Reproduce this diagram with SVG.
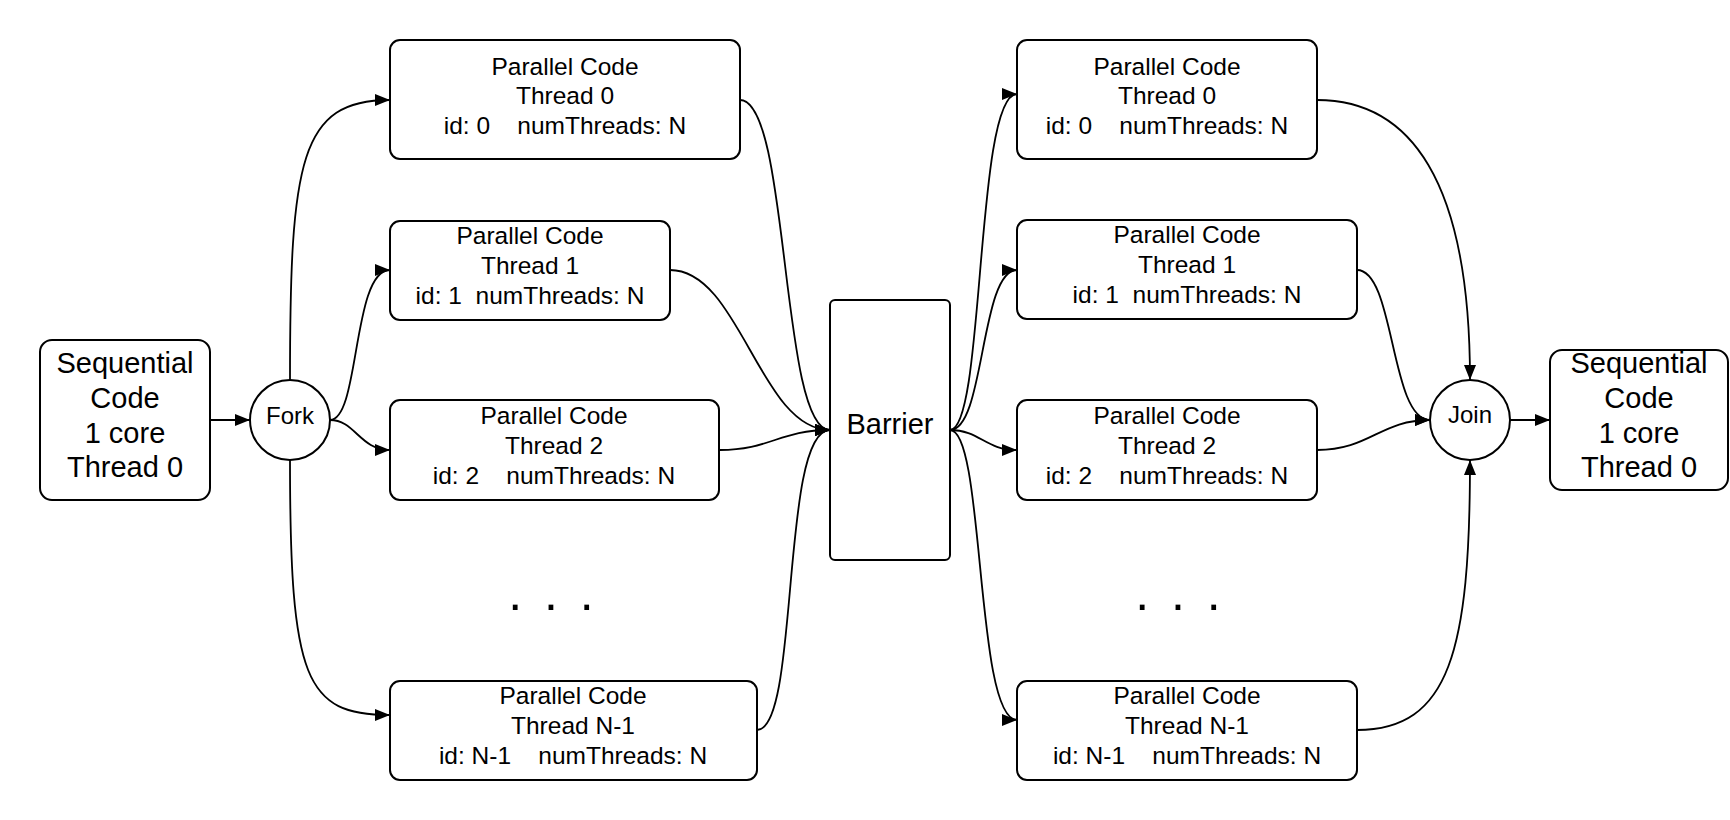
<svg xmlns="http://www.w3.org/2000/svg" width="1730" height="820" viewBox="0 0 1730 820">
<style>
.box{fill:#fff;stroke:#000;stroke-width:2}
.t{font-family:"Liberation Sans",Arial,sans-serif;fill:#000;text-anchor:middle}
.s23{font-size:24.5px}
.s28{font-size:29px}
.s22{font-size:24px}
.c{fill:none;stroke:#000;stroke-width:1.8;marker-end:url(#ah)}
.pre{white-space:pre}
</style>
<defs>
<marker id="ah" markerUnits="userSpaceOnUse" markerWidth="16" markerHeight="14" refX="15" refY="6" orient="auto">
<path d="M0,0 L15,6 L0,12 z" fill="#000"/>
</marker>
</defs>
<rect width="1730" height="820" fill="#fff"/>

<g id="seq-left">
<rect class="box" x="40" y="340" width="170" height="160" rx="12"/>
<text class="t s28" x="125" y="373">Sequential</text>
<text class="t s28" x="125" y="408">Code</text>
<text class="t s28" x="125" y="443">1 core</text>
<text class="t s28" x="125" y="477">Thread 0</text>
</g>
<g id="fork">
<circle class="box" cx="290" cy="420" r="40"/>
<text class="t s22" x="290" y="424">Fork</text>
</g>

<g id="p0">
<rect class="box" x="390" y="40" width="350" height="119" rx="10"/>
<text class="t s23" x="565" y="75">Parallel Code</text>
<text class="t s23" x="565" y="104">Thread 0</text>
<text class="t s23 pre" x="565" y="134">id: 0    numThreads: N</text>
</g>
<g id="p1">
<rect class="box" x="390" y="221" width="280" height="99" rx="10"/>
<text class="t s23" x="530" y="244">Parallel Code</text>
<text class="t s23" x="530" y="274">Thread 1</text>
<text class="t s23 pre" x="530" y="304">id: 1  numThreads: N</text>
</g>
<g id="p2">
<rect class="box" x="390" y="400" width="329" height="100" rx="10"/>
<text class="t s23" x="554" y="424">Parallel Code</text>
<text class="t s23" x="554" y="454">Thread 2</text>
<text class="t s23 pre" x="554" y="484">id: 2    numThreads: N</text>
</g>
<g id="pn">
<rect class="box" x="390" y="681" width="367" height="99" rx="10"/>
<text class="t s23" x="573" y="704">Parallel Code</text>
<text class="t s23" x="573" y="734">Thread N-1</text>
<text class="t s23 pre" x="573" y="764">id: N-1    numThreads: N</text>
</g>
<g id="dots-left">
<text class="t" style="font-size:50px;letter-spacing:4px" x="553" y="610">. . .</text>
</g>

<g id="barrier">
<rect class="box" x="830" y="300" width="120" height="260" rx="5"/>
<text class="t s28" x="890" y="434">Barrier</text>
</g>

<g id="q0">
<rect class="box" x="1017" y="40" width="300" height="119" rx="10"/>
<text class="t s23" x="1167" y="75">Parallel Code</text>
<text class="t s23" x="1167" y="104">Thread 0</text>
<text class="t s23 pre" x="1167" y="134">id: 0    numThreads: N</text>
</g>
<g id="q1">
<rect class="box" x="1017" y="220" width="340" height="99" rx="10"/>
<text class="t s23" x="1187" y="243">Parallel Code</text>
<text class="t s23" x="1187" y="273">Thread 1</text>
<text class="t s23 pre" x="1187" y="303">id: 1  numThreads: N</text>
</g>
<g id="q2">
<rect class="box" x="1017" y="400" width="300" height="100" rx="10"/>
<text class="t s23" x="1167" y="424">Parallel Code</text>
<text class="t s23" x="1167" y="454">Thread 2</text>
<text class="t s23 pre" x="1167" y="484">id: 2    numThreads: N</text>
</g>
<g id="qn">
<rect class="box" x="1017" y="681" width="340" height="99" rx="10"/>
<text class="t s23" x="1187" y="704">Parallel Code</text>
<text class="t s23" x="1187" y="734">Thread N-1</text>
<text class="t s23 pre" x="1187" y="764">id: N-1    numThreads: N</text>
</g>
<g id="dots-right">
<text class="t" style="font-size:50px;letter-spacing:4px" x="1180" y="610">. . .</text>
</g>

<g id="join">
<circle class="box" cx="1470" cy="420" r="40"/>
<text class="t s22" x="1470" y="423">Join</text>
</g>
<g id="seq-right">
<rect class="box" x="1550" y="350" width="178" height="140" rx="12"/>
<text class="t s28" x="1639" y="373">Sequential</text>
<text class="t s28" x="1639" y="408">Code</text>
<text class="t s28" x="1639" y="443">1 core</text>
<text class="t s28" x="1639" y="477">Thread 0</text>
</g>

<g id="connectors">
<path class="c" d="M210,420 L250,420"/>
<path class="c" d="M290,380 C290,160 300,100 390,100"/>
<path class="c" d="M330,420 C360,420 352,270 390,270"/>
<path class="c" d="M330,420 C355,420 360,450 390,450"/>
<path class="c" d="M290,460 C290,680 305,715 390,715"/>

<path class="c" d="M740,100 C790,100 780,430 830,430"/>
<path class="c" d="M670,270 C740,270 760,430 830,430"/>
<path class="c" d="M720,450 C770,450 780,430 830,430"/>
<path class="c" d="M757,730 C800,730 780,430 830,430"/>

<path class="c" d="M950,430 C985,430 975,94 1017,94"/>
<path class="c" d="M950,430 C985,430 980,270 1017,270"/>
<path class="c" d="M950,430 C980,430 985,450 1017,450"/>
<path class="c" d="M950,430 C985,430 975,720 1017,720"/>

<path class="c" d="M1317,100 C1410,100 1470,180 1470,380"/>
<path class="c" d="M1357,270 C1395,270 1390,420 1430,420"/>
<path class="c" d="M1317,450 C1370,450 1380,420 1430,420"/>
<path class="c" d="M1357,730 C1450,730 1470,650 1470,460"/>
<path class="c" d="M1510,420 L1550,420"/>
</g>
</svg>
